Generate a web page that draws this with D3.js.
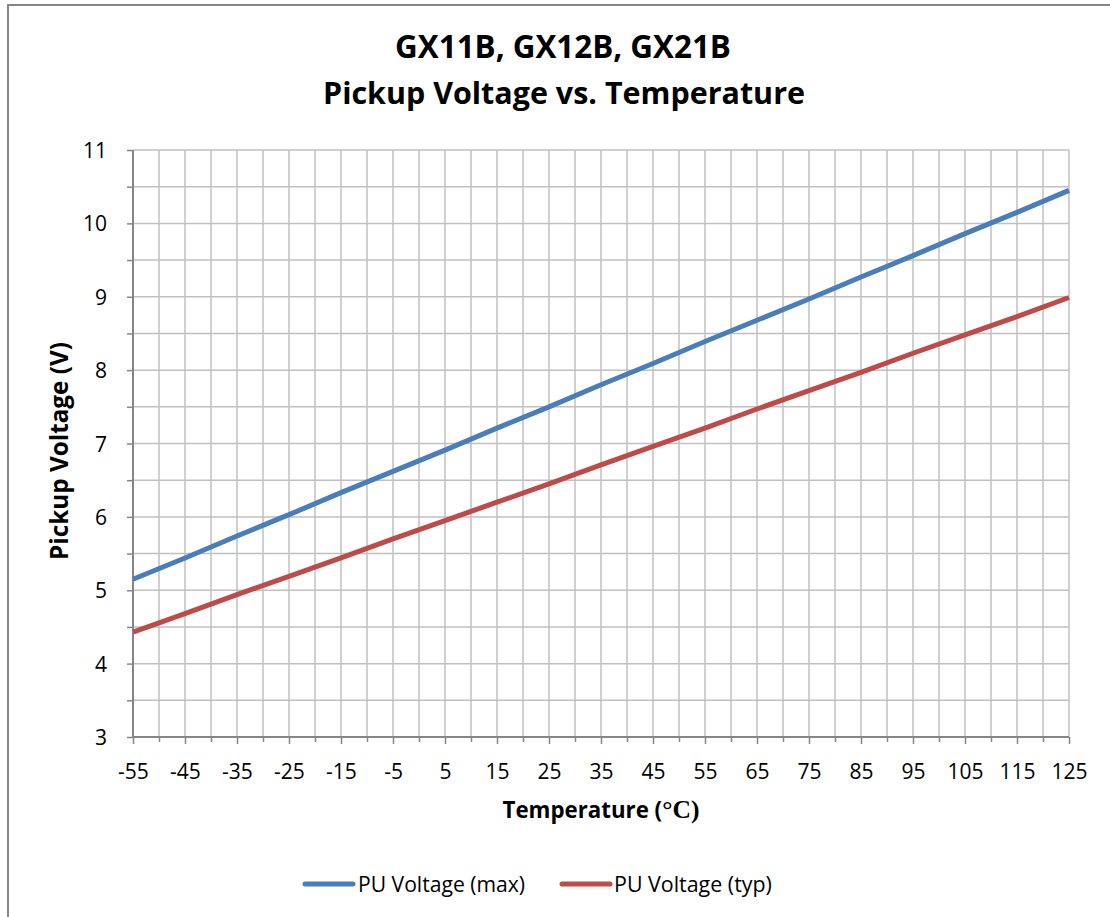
<!DOCTYPE html>
<html>
<head>
<meta charset="utf-8">
<script src="https://cdn.jsdelivr.net/npm/d3@7"></script>
<style>
  html, body { margin: 0; padding: 0; background: #fff; }
  svg { display: block; }
  text { font-family: "Open Sans", Lato, sans-serif; fill: #000; }
</style>
</head>
<body>
<svg id="chart" width="1110" height="917"></svg>
<script>
const temperatures = [-55, -45, -35, -25, -15, -5, 5, 15, 25, 35, 45, 55, 65, 75, 85, 95, 105, 115, 125];
const puMax = [5.15, 5.44, 5.74, 6.03, 6.33, 6.62, 6.91, 7.21, 7.50, 7.80, 8.09, 8.39, 8.68, 8.97, 9.27, 9.56, 9.86, 10.15, 10.45];
const puTyp = [4.43, 4.68, 4.94, 5.19, 5.44, 5.70, 5.95, 6.20, 6.45, 6.71, 6.96, 7.21, 7.47, 7.72, 7.97, 8.23, 8.48, 8.73, 8.99];
const seriesNames = ["PU Voltage (max)", "PU Voltage (typ)"];
const xTickLabels = [-55, -45, -35, -25, -15, -5, 5, 15, 25, 35, 45, 55, 65, 75, 85, 95, 105, 115, 125];
const yTickLabels = [3, 4, 5, 6, 7, 8, 9, 10, 11];
const titleLines = ["GX11B, GX12B, GX21B", "Pickup Voltage vs. Temperature"];

(function () {
const colors = ["#4A7EBB", "#BE4B48"];
const svg = d3.select("#chart");

// scale a text's font size so it spans the wanted width
function fit(sel, width) {
  const s = parseFloat(sel.attr("font-size"));
  const w = sel.node().getComputedTextLength();
  if (w > 0) sel.attr("font-size", (s * width / w).toFixed(2));
  return sel;
}

// outer border (left and top visible)
svg.append("path").attr("d", "M8,917 L8,5 L1110,5")
  .attr("fill", "none").attr("stroke", "#868686").attr("stroke-width", 2);

const pL = 133, pR = 1069, pT = 150, pB = 737;
const x = d3.scaleLinear().domain([-55, 125]).range([pL, pR]);
const y = d3.scaleLinear().domain([3, 11]).range([pB, pT]);

// grid
const xGrid = d3.range(-55, 126, 5);
const yGrid = d3.range(3, 11.01, 0.5);
svg.append("g").selectAll("line").data(xGrid.filter(d => d > -55)).join("line")
  .attr("x1", d => x(d)).attr("x2", d => x(d)).attr("y1", pT).attr("y2", pB)
  .attr("stroke", "#c0c0c0").attr("stroke-width", 1.5);
svg.append("g").selectAll("line").data(yGrid.filter(d => d > 3)).join("line")
  .attr("x1", pL).attr("x2", pR).attr("y1", d => y(d)).attr("y2", d => y(d))
  .attr("stroke", "#c0c0c0").attr("stroke-width", 1.5);

// axes
const xAxis = d3.axisBottom(x).tickValues(xGrid).tickSize(7)
  .tickFormat(d => xTickLabels.includes(d) ? d : "");
const gx = svg.append("g").attr("transform", `translate(0,${pB})`).call(xAxis);
gx.select(".domain").attr("stroke", "#868686").attr("stroke-width", 2).attr("d", `M${pL},0H${pR}`);
gx.selectAll(".tick line").attr("stroke", "#868686").attr("stroke-width", 1.5)
  .attr("y2", d => xTickLabels.includes(d) ? 7 : 5);
gx.selectAll(".tick text").attr("font-size", 21).attr("font-family", "'Open Sans', sans-serif")
  .attr("fill", "#000").attr("y", 42).attr("dy", 0);

const yAxis = d3.axisLeft(y).tickValues(yGrid).tickSize(6)
  .tickFormat(d => yTickLabels.includes(d) ? d : "");
const gy = svg.append("g").attr("transform", `translate(${pL},0)`).call(yAxis);
gy.select(".domain").attr("stroke", "#868686").attr("stroke-width", 2).attr("d", `M0,${pT}V${pB}`);
gy.selectAll(".tick line").attr("stroke", "#868686").attr("stroke-width", 1.5);
gy.selectAll(".tick text").attr("font-size", 21).attr("font-family", "'Open Sans', sans-serif")
  .attr("fill", "#000").attr("x", -26).attr("dy", "0.36em");

// lines
const line = d3.line().x((d, i) => x(temperatures[i])).y(d => y(d));
[puMax, puTyp].forEach((s, i) => {
  svg.append("path").datum(s).attr("d", line)
    .attr("fill", "none").attr("stroke", colors[i]).attr("stroke-width", 5);
});

// title
fit(svg.append("text").attr("x", 563).attr("y", 58).attr("text-anchor", "middle")
  .attr("font-size", 29).attr("font-weight", "bold").text(titleLines[0]), 336);
fit(svg.append("text").attr("x", 564).attr("y", 104).attr("text-anchor", "middle")
  .attr("font-size", 29).attr("font-weight", "bold").text(titleLines[1]), 482);

// axis titles
const xt = svg.append("text").attr("x", 601).attr("y", 818).attr("text-anchor", "middle")
  .attr("font-size", 20).attr("font-weight", "bold");
xt.append("tspan").text("Temperature (");
xt.append("tspan").attr("font-family", "'Liberation Serif', serif").attr("font-weight", "bold").attr("font-size", "1.15em").text("°C)");
fit(xt, 197);

fit(svg.append("text").attr("transform", "translate(68,451) rotate(-90)").attr("text-anchor", "middle")
  .attr("font-size", 20).attr("font-weight", "bold").text("Pickup Voltage (V)"), 218);

// legend
const legendItems = [{x0: 305, tx: 358, w: 167}, {x0: 562, tx: 614, w: 158}];
legendItems.forEach((l, i) => {
  svg.append("line").attr("x1", l.x0).attr("x2", l.x0 + 48).attr("y1", 884).attr("y2", 884)
    .attr("stroke", colors[i]).attr("stroke-width", 5).attr("stroke-linecap", "round");
  fit(svg.append("text").attr("x", l.tx).attr("y", 892).attr("font-size", 20).text(seriesNames[i]), l.w);
});
})();
</script>
</body>
</html>
